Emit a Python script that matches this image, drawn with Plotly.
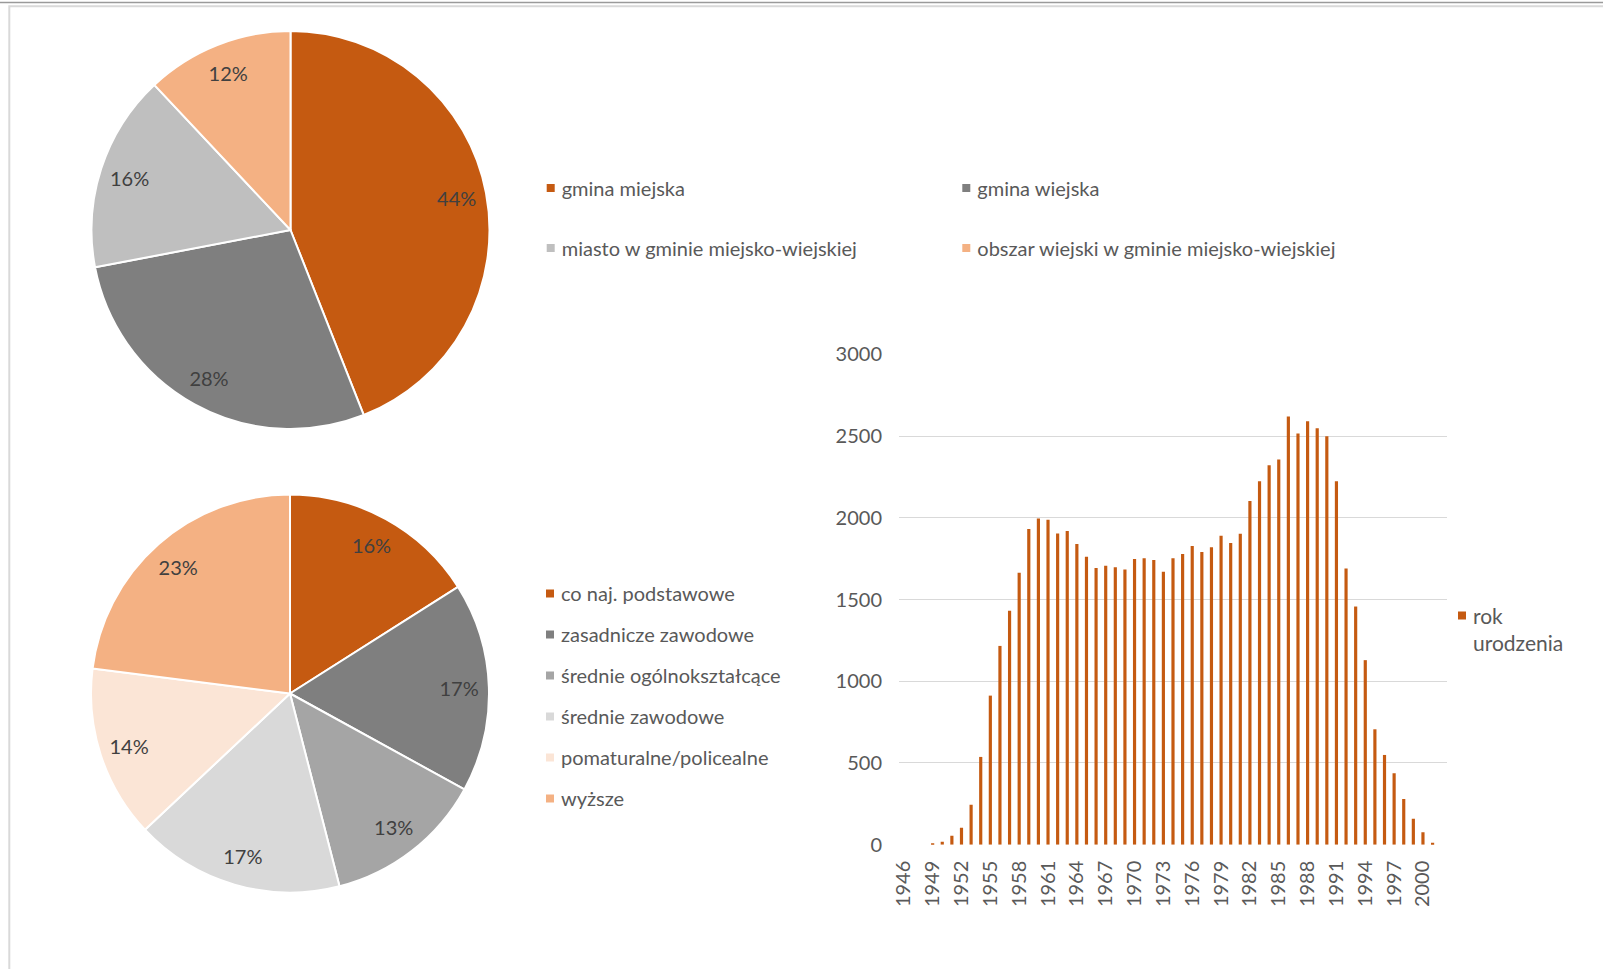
import plotly.graph_objects as go

# --- data -------------------------------------------------------------------
area_labels = [
    "gmina miejska",
    "gmina wiejska",
    "miasto w gminie miejsko-wiejskiej",
    "obszar wiejski w gminie miejsko-wiejskiej",
]
area_share = [44, 28, 16, 12]
area_colors = ["#C55A11", "#7F7F7F", "#BFBFBF", "#F4B183"]

edu_labels = [
    "co naj. podstawowe",
    "zasadnicze zawodowe",
    "średnie ogólnokształcące",
    "średnie zawodowe",
    "pomaturalne/policealne",
    "wyższe",
]
edu_share = [16, 17, 13, 17, 14, 23]
edu_colors = ["#C55A11", "#7F7F7F", "#A5A5A5", "#D9D9D9", "#FBE5D6", "#F4B183"]

birth_years = list(range(1946, 2003))
birth_counts = [
    0, 0, 0, 8, 18, 55, 104, 245, 537, 912,
    1216, 1431, 1663, 1931, 1996, 1988, 1904, 1919, 1839, 1761,
    1692, 1706, 1698, 1684, 1747, 1753, 1741, 1670, 1753, 1778,
    1827, 1790, 1819, 1890, 1845, 1902, 2102, 2223, 2321, 2357,
    2619, 2515, 2590, 2547, 2498, 2223, 1690, 1457, 1129, 706,
    549, 437, 280, 159, 76, 12, 0,
]
bar_name = "rok<br>urodzenia"
y_ticks = [0, 500, 1000, 1500, 2000, 2500, 3000]

# --- geometry (pixels of a 1603 x 969 page) ---------------------------------
W, H = 1603, 969
BAR_COLOR = "#C55A11"
TEXT = "#595959"
FONT = "Lato"


def px_x(x):
    return x / W


def px_y(y):
    return 1 - y / H


def pie_domain(cx, cy, r):
    return dict(x=[px_x(cx - r), px_x(cx + r)], y=[px_y(cy + r), px_y(cy - r)])


pie1_dom = pie_domain(290.5, 230, 199)
pie2_dom = pie_domain(290, 693.5, 199)

fig = go.Figure()


def add_pie(labels, values, colors, dom):
    # filled pie
    fig.add_trace(go.Pie(
        labels=labels, values=values, sort=False, direction="clockwise",
        rotation=0, domain=dom, textinfo="none", showlegend=False,
        marker=dict(colors=colors, line=dict(color="white", width=2)),
        hoverinfo="label+percent",
    ))
    # transparent ring carrying the percentage labels near the rim
    fig.add_trace(go.Pie(
        labels=labels, values=values, sort=False, direction="clockwise",
        rotation=0, domain=dom, hole=0.7, showlegend=False,
        marker=dict(colors=["rgba(0,0,0,0)"] * len(values), line=dict(width=0)),
        textinfo="percent", textposition="inside", insidetextorientation="auto",
        textfont=dict(family=FONT, size=20, color="#404040"),
        hoverinfo="skip",
    ))


add_pie(area_labels, area_share, area_colors, pie1_dom)
add_pie(edu_labels, edu_share, edu_colors, pie2_dom)


def legend_key(name, color, legend, group):
    fig.add_trace(go.Scatter(
        x=[None], y=[None], mode="markers", name=name,
        marker=dict(symbol="square", size=8, color=color),
        legend=legend, legendgroup=group,
        xaxis="x2", yaxis="y2", hoverinfo="skip",
    ))


# legend keys: two columns for the first pie, one column for the second
for i, (lab, col) in enumerate(zip(area_labels, area_colors)):
    legend_key(lab, col, "legend" if i % 2 == 0 else "legend2", f"area{i}")
for i, (lab, col) in enumerate(zip(edu_labels, edu_colors)):
    legend_key(lab, col, "legend3", f"edu{i}")

# births per year
fig.add_trace(go.Bar(
    x=birth_years, y=birth_counts, name=bar_name, showlegend=False,
    marker=dict(color=BAR_COLOR, line=dict(width=0)),
    xaxis="x", yaxis="y",
))
legend_key(bar_name, BAR_COLOR, "legend4", "bar")


def legend_style(size=20):
    return dict(
        xanchor="left", yanchor="top", bgcolor="rgba(0,0,0,0)", borderwidth=0,
        font=dict(family=FONT, size=size, color=TEXT),
    )


fig.update_layout(
    width=W, height=H,
    margin=dict(l=0, r=0, t=0, b=0, pad=0, autoexpand=False),
    paper_bgcolor="white", plot_bgcolor="white",
    font=dict(family=FONT, size=20, color=TEXT),
    bargap=0.67,
    xaxis=dict(
        domain=[px_x(899), px_x(1447)], anchor="y", automargin=False,
        range=[birth_years[0] - 0.5, birth_years[-1] + 0.5],
        tickmode="linear", tick0=birth_years[0], dtick=3, tickangle=-90,
        showgrid=False, zeroline=False, showline=False, ticks="",
        ticklabelstandoff=11,
        tickfont=dict(family=FONT, size=20, color=TEXT),
    ),
    yaxis=dict(
        domain=[px_y(844.7), px_y(354.3)], anchor="x", automargin=False,
        range=[y_ticks[0], y_ticks[-1]], tickmode="array", tickvals=y_ticks,
        showgrid=True, gridcolor="#D9D9D9", gridwidth=1.3,
        zeroline=False, showline=False, ticks="", ticklabelstandoff=16,
        tickfont=dict(family=FONT, size=20, color=TEXT),
    ),
    xaxis2=dict(visible=False, domain=[0, 0.01], anchor="y2"),
    yaxis2=dict(visible=False, domain=[0, 0.01], anchor="x2"),
    legend=dict(x=px_x(521.7), y=px_y(168.5), tracegroupgap=31, **legend_style()),
    legend2=dict(x=px_x(937.3), y=px_y(168.5), tracegroupgap=31, **legend_style()),
    legend3=dict(x=px_x(521), y=px_y(574), tracegroupgap=12, **legend_style()),
    legend4=dict(x=px_x(1433), y=px_y(595.3), valign="top", **legend_style(21)),
    shapes=[
        dict(type="line", xref="paper", yref="paper", x0=0, x1=1,
             y0=px_y(2.5), y1=px_y(2.5), line=dict(color="#9A9A9A", width=1.5)),
        dict(type="rect", xref="paper", yref="paper", x0=px_x(9.3), x1=1.05,
             y0=px_y(6.3), y1=-0.05, line=dict(color="#D9D9D9", width=2)),
    ],
)

# bring the legend squares closer to their labels
shift_keys = """
var gd = document.getElementById('{plot_id}');
gd.querySelectorAll('g.legendpoints').forEach(function (g) {
  if (g.parentNode.closest && g.parentNode.closest('g.legendpoints')) return;
  var t = g.getAttribute('transform') || '';
  g.setAttribute('transform', 'translate(9,0) ' + t);
});
"""

fig.write_html("out.html", post_script=shift_keys)
